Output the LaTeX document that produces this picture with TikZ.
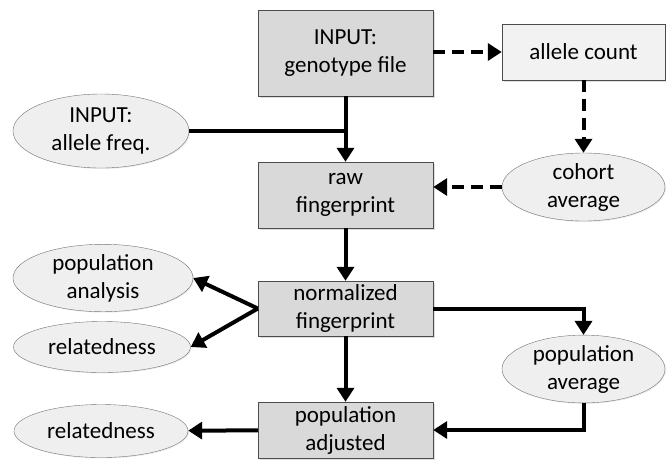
\documentclass[tikz,border=0pt]{standalone}
\usepackage{fontspec}
\setmainfont{Carlito}
\usetikzlibrary{shapes.geometric,arrows.meta,shadows}
\definecolor{boxgray}{HTML}{D9D9D9}
\definecolor{lightbox}{HTML}{F2F2F2}
\definecolor{ovalgray}{HTML}{EFEFEF}

\begin{document}
\begin{tikzpicture}[x=1pt,y=-1pt]
\tikzstyle{every node}=[font=\fontsize{23}{28}\selectfont, align=center]
\tikzstyle{stepbox}=[draw=black!70, fill=boxgray, minimum width=175pt, inner sep=0pt,
  drop shadow={opacity=0.25, shadow xshift=1.5pt, shadow yshift=-1.5pt}]
\tikzstyle{result}=[ellipse, draw=black!55, fill=ovalgray, inner sep=0pt,
  drop shadow={opacity=0.15, shadow xshift=1pt, shadow yshift=-1pt}]
\tikzstyle{flow}=[line width=4pt, -{Triangle[length=14pt,width=17pt]}]
\tikzstyle{side}=[flow, dash pattern=on 12pt off 7pt]
\useasboundingbox (0,0) rectangle (666,459);

% steps
\node[stepbox, minimum height=86pt] (genotype) at (345.5,53) {INPUT:\\genotype file};
\node[stepbox, fill=lightbox, minimum width=163pt, minimum height=56pt] (count) at (583.5,52) {allele count};
\node[stepbox, minimum height=66pt] (raw) at (345.5,195) {raw\\fingerprint};
\node[stepbox, minimum height=55pt] (normalized) at (345.5,308.5) {normalized\\fingerprint};
\node[stepbox, minimum height=56pt] (adjusted) at (345.5,430) {population\\adjusted};

% ovals
\node[result, minimum width=176pt, minimum height=74pt] (freq) at (101,131) {INPUT:\\allele freq.};
\node[result, minimum width=163pt, minimum height=68pt] (cohort) at (583.5,187) {cohort\\average};
\node[result, minimum width=180pt, minimum height=62pt] (analysis) at (103,278) {population\\analysis};
\node[result, minimum width=177pt, minimum height=51pt] (related) at (102,347) {relatedness};
\node[result, minimum width=163pt, minimum height=67pt] (average) at (583.5,369) {population\\average};
\node[result, minimum width=174pt, minimum height=53pt] (related2) at (101,431) {relatedness};

% connectors
\draw[side] (genotype.east |- count) -- (count);
\draw[side] (count) -- (cohort);
\draw[side] (cohort.west) -- (cohort.west -| raw.east);
\draw[flow] (genotype) -- (raw);
\draw[line width=4pt] (freq.east) -- (freq.east -| raw);
\draw[flow] (raw) -- (normalized);
\draw[flow] (normalized.west) -- (analysis.east);
\draw[flow] (normalized.west) -- (related.east);
\draw[flow] (normalized) -- (adjusted);
\draw[flow] (normalized.east) -| (average);
\draw[flow] (average) |- (adjusted);
\draw[flow] (adjusted) -- (related2);
\end{tikzpicture}
\end{document}
